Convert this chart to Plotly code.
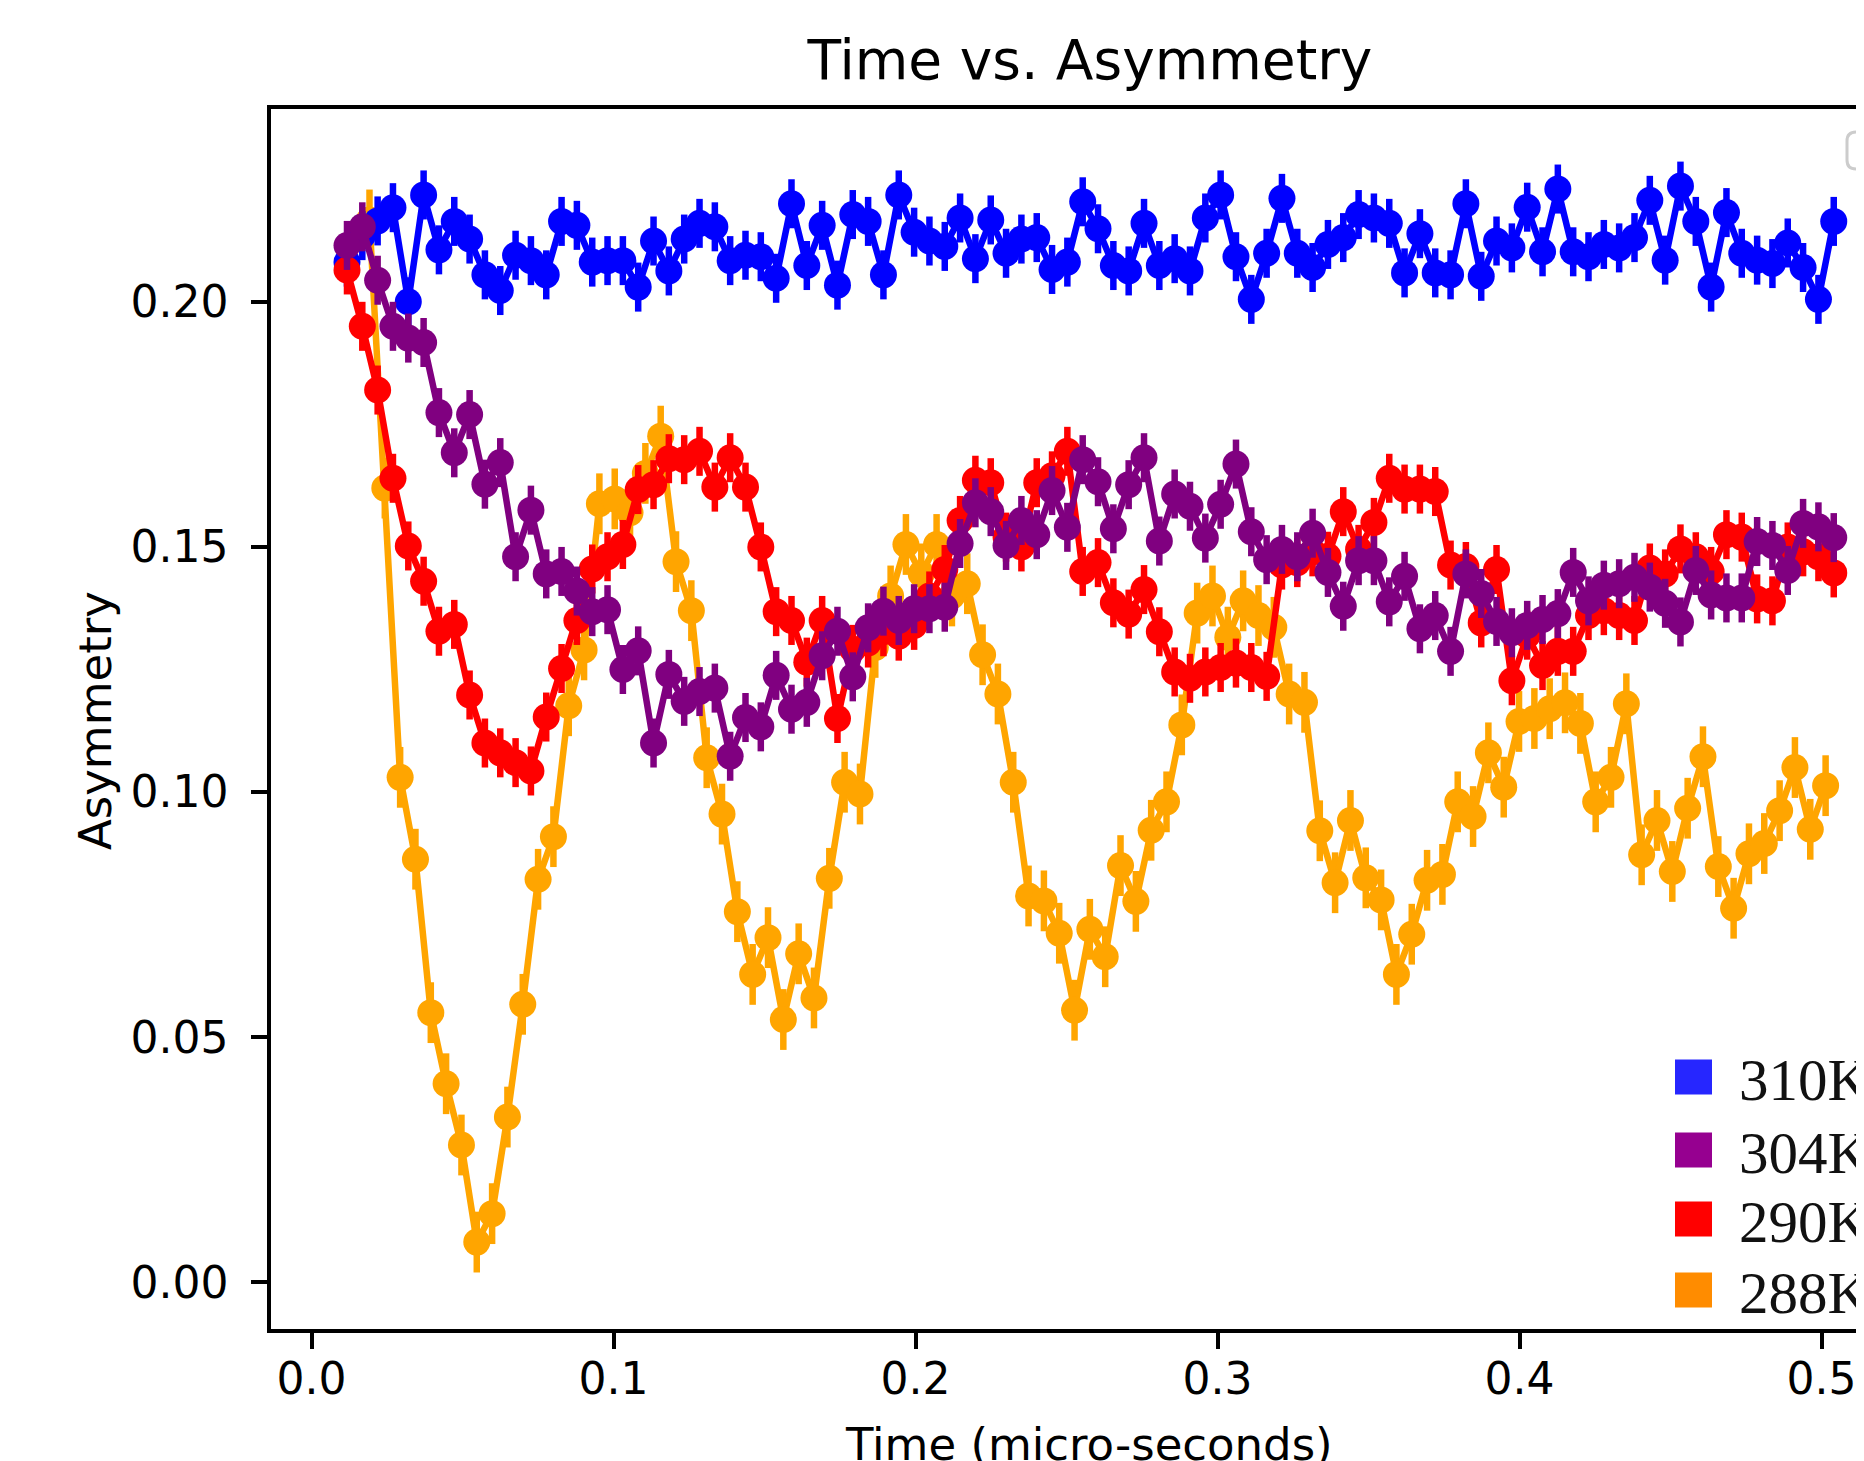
import plotly.graph_objects as go

# ---------------- data ----------------
# time grid (micro-seconds) of the 310K / 304K / 290K runs, and of the 288K run
t_main = [round(0.01175 + 0.005075 * i, 5) for i in range(98)]
t_288 = [round(0.0192 + 0.005075 * i, 5) for i in range(96)]

a_310 = [0.2081, 0.2135, 0.2165, 0.2192, 0.2000, 0.2218, 0.2106, 0.2164, 0.2128, 0.2055,
         0.2023, 0.2095, 0.2084, 0.2055, 0.2164, 0.2156, 0.2081, 0.2084, 0.2084, 0.2030,
         0.2124, 0.2063, 0.2128, 0.2160, 0.2153, 0.2084, 0.2095, 0.2092, 0.2048, 0.2200,
         0.2074, 0.2156, 0.2034, 0.2178, 0.2164, 0.2055, 0.2218, 0.2142, 0.2124, 0.2113,
         0.2171, 0.2088, 0.2167, 0.2099, 0.2128, 0.2131, 0.2066, 0.2081, 0.2204, 0.2149,
         0.2074, 0.2063, 0.2160, 0.2074, 0.2088, 0.2063, 0.2171, 0.2218, 0.2092, 0.2005,
         0.2099, 0.2211, 0.2099, 0.2070, 0.2117, 0.2131, 0.2178, 0.2171, 0.2160, 0.2059,
         0.2139, 0.2059, 0.2055, 0.2200, 0.2052, 0.2124, 0.2110, 0.2193, 0.2102, 0.2230,
         0.2102, 0.2092, 0.2117, 0.2110, 0.2131, 0.2207, 0.2085, 0.2236, 0.2164, 0.2030,
         0.2182, 0.2099, 0.2085, 0.2078, 0.2120, 0.2070, 0.2005, 0.2164]

a_304 = [0.2115, 0.2153, 0.2044, 0.1950, 0.1926, 0.1917, 0.1774, 0.1692, 0.1770, 0.1628,
         0.1672, 0.1480, 0.1575, 0.1445, 0.1450, 0.1410, 0.1368, 0.1372, 0.1250, 0.1288,
         0.1100, 0.1240, 0.1185, 0.1205, 0.1212, 0.1073, 0.1152, 0.1133, 0.1238, 0.1169,
         0.1183, 0.1278, 0.1328, 0.1235, 0.1335, 0.1369, 0.1350, 0.1374, 0.1374, 0.1377,
         0.1507, 0.1590, 0.1572, 0.1503, 0.1554, 0.1525, 0.1615, 0.1540, 0.1678, 0.1633,
         0.1537, 0.1627, 0.1682, 0.1512, 0.1608, 0.1583, 0.1518, 0.1587, 0.1669, 0.1531,
         0.1474, 0.1495, 0.1480, 0.1528, 0.1448, 0.1379, 0.1472, 0.1472, 0.1388, 0.1440,
         0.1333, 0.1360, 0.1287, 0.1445, 0.1405, 0.1348, 0.1325, 0.1340, 0.1352, 0.1364,
         0.1448, 0.1390, 0.1422, 0.1425, 0.1438, 0.1418, 0.1385, 0.1347, 0.1452, 0.1402,
         0.1396, 0.1396, 0.1511, 0.1503, 0.1452, 0.1548, 0.1541, 0.1519]

a_290 = [0.2065, 0.1950, 0.1820, 0.1640, 0.1502, 0.1430, 0.1328, 0.1342, 0.1198, 0.1100,
         0.1080, 0.1060, 0.1043, 0.1153, 0.1252, 0.1350, 0.1455, 0.1480, 0.1505, 0.1617,
         0.1627, 0.1680, 0.1678, 0.1695, 0.1622, 0.1682, 0.1622, 0.1500, 0.1368, 0.1350,
         0.1265, 0.1350, 0.1150, 0.1291, 0.1304, 0.1327, 0.1318, 0.1340, 0.1400, 0.1454,
         0.1554, 0.1636, 0.1631, 0.1520, 0.1500, 0.1631, 0.1645, 0.1695, 0.1450, 0.1468,
         0.1386, 0.1363, 0.1413, 0.1327, 0.1245, 0.1232, 0.1245, 0.1254, 0.1263, 0.1254,
         0.1236, 0.1463, 0.1468, 0.1490, 0.1481, 0.1572, 0.1495, 0.1550, 0.1640, 0.1618,
         0.1618, 0.1613, 0.1463, 0.1460, 0.1345, 0.1454, 0.1227, 0.1320, 0.1258, 0.1287,
         0.1287, 0.1360, 0.1370, 0.1360, 0.1350, 0.1457, 0.1445, 0.1496, 0.1480, 0.1450,
         0.1525, 0.1520, 0.1394, 0.1390, 0.1500, 0.1490, 0.1480, 0.1447]

a_288 = [0.2167, 0.1620, 0.1030, 0.0863, 0.0550, 0.0405, 0.0280, 0.0082, 0.0140, 0.0337,
         0.0567, 0.0822, 0.0909, 0.1176, 0.1290, 0.1588, 0.1598, 0.1570, 0.1650, 0.1726,
         0.1470, 0.1370, 0.1070, 0.0955, 0.0756, 0.0628, 0.0703, 0.0536, 0.0670, 0.0580,
         0.0824, 0.1020, 0.0996, 0.1295, 0.1400, 0.1505, 0.1445, 0.1505, 0.1400, 0.1425,
         0.1280, 0.1200, 0.1020, 0.0788, 0.0778, 0.0712, 0.0555, 0.0720, 0.0664, 0.0850,
         0.0777, 0.0922, 0.0980, 0.1137, 0.1365, 0.1400, 0.1316, 0.1390, 0.1360, 0.1336,
         0.1200, 0.1183, 0.0921, 0.0815, 0.0942, 0.0825, 0.0780, 0.0628, 0.0710, 0.0820,
         0.0832, 0.0980, 0.0950, 0.1080, 0.1010, 0.1144, 0.1150, 0.1170, 0.1182, 0.1140,
         0.0980, 0.1030, 0.1180, 0.0872, 0.0942, 0.0838, 0.0967, 0.1072, 0.0848, 0.0763,
         0.0874, 0.0895, 0.0962, 0.1050, 0.0924, 0.1013]

labels = ["310K", "304K", "290K", "288K"]
line_colors = {"310K": "#0000ff", "304K": "#800080", "290K": "#ff0000", "288K": "#ffa500"}
key_colors = {"310K": "#2626ff", "304K": "#960090", "290K": "#ff0000", "288K": "#ff8c00"}
errors = {"310K": 0.0050, "304K": 0.0050, "290K": 0.0050, "288K": 0.0062}

series = {"310K": (t_main, a_310), "304K": (t_main, a_304),
          "290K": (t_main, a_290), "288K": (t_288, a_288)}

x_ticks = [0.0, 0.1, 0.2, 0.3, 0.4, 0.5]
y_ticks = [0.00, 0.05, 0.10, 0.15, 0.20]

# ---------------- layout geometry (pixels) ----------------
# the page body has an 8 px margin, so the figure is 8 px smaller on each axis
OFF = 8
W, H = 1864 - OFF, 1461 - OFF
ML, MR, MT, MB = 271 - OFF, 0, 109 - OFF, 132
PW, PH = W - ML - MR, H - MT - MB
FONT = "DejaVu Sans"


def px(x):
    """page x pixel -> paper fraction"""
    return (x - OFF - ML) / PW


def py(y):
    """page y pixel -> paper fraction"""
    return (H - MB - (y - OFF)) / PH


fig = go.Figure()
for name in ["288K", "310K", "290K", "304K"]:
    t, a = series[name]
    c = line_colors[name]
    fig.add_trace(go.Scatter(
        x=t, y=a, mode="lines+markers", name=name, showlegend=False,
        line=dict(color=c, width=6.5),
        marker=dict(size=27, color=c, line=dict(width=0)),
        error_y=dict(type="constant", value=errors[name], color=c, thickness=6.5, width=0),
    ))

axis_common = dict(showgrid=False, zeroline=False, showline=True, linecolor="black",
                   linewidth=3.5, ticks="outside", ticklen=16, tickwidth=3.5,
                   tickcolor="black", tickfont=dict(family=FONT, size=44, color="black"),
                   automargin=False)

fig.update_xaxes(range=[-0.01341, 0.51404], tickvals=x_ticks, tickformat=".1f",
                 mirror=True, ticklabelstandoff=-8, **axis_common)
fig.update_yaxes(range=[-0.00953, 0.23933], tickvals=y_ticks, tickformat=".2f",
                 mirror=False, ticklabelstandoff=14, **axis_common)

shapes = []
# empty legend frame at upper right
x0, y0, y1 = px(1847), py(132), py(169)
x1 = px(1900)
rx, ry = 9 / PW, 9 / PH
path = (f"M {x0 + rx},{y0} L {x1},{y0} L {x1},{y1} L {x0 + rx},{y1} "
        f"Q {x0},{y1} {x0},{y1 + ry} L {x0},{y0 - ry} Q {x0},{y0} {x0 + rx},{y0} Z")
shapes.append(dict(type="path", xref="paper", yref="paper", path=path,
                   line=dict(color="#cccccc", width=3), fillcolor="rgba(255,255,255,0.8)"))

annotations = []
key_rows = [1077, 1150, 1219, 1290]
for name, cy in zip(labels, key_rows):
    shapes.append(dict(type="rect", xref="paper", yref="paper",
                       x0=px(1675), x1=px(1712), y0=py(cy - 17.5), y1=py(cy + 17.5),
                       line=dict(width=0), fillcolor=key_colors[name]))
    annotations.append(dict(text=name, xref="paper", yref="paper", x=px(1737), y=py(cy + 3),
                            xanchor="left", yanchor="middle", showarrow=False,
                            font=dict(family="Liberation Serif", size=59, color="#111111")))

annotations.append(dict(text="Time (micro-seconds)", xref="paper", yref="paper",
                        x=px(1089), y=py(1444), xanchor="center", yanchor="middle",
                        showarrow=False, font=dict(family=FONT, size=45, color="black")))
annotations.append(dict(text="Asymmetry", xref="paper", yref="paper", textangle=-90,
                        x=px(95), y=py(721), xanchor="center", yanchor="middle",
                        showarrow=False, font=dict(family=FONT, size=45, color="black")))

fig.update_layout(
    width=W, height=H,
    margin=dict(l=ML, r=MR, t=MT, b=MB, pad=0),
    paper_bgcolor="white", plot_bgcolor="white",
    title=dict(text="Time vs. Asymmetry", x=(1090 - OFF) / W, xanchor="center",
               xref="container", y=1 - (60 - OFF) / H, yanchor="middle", yref="container",
               font=dict(family=FONT, size=55, color="black")),
    shapes=shapes, annotations=annotations, showlegend=False,
)

fig.write_html("out.html")
